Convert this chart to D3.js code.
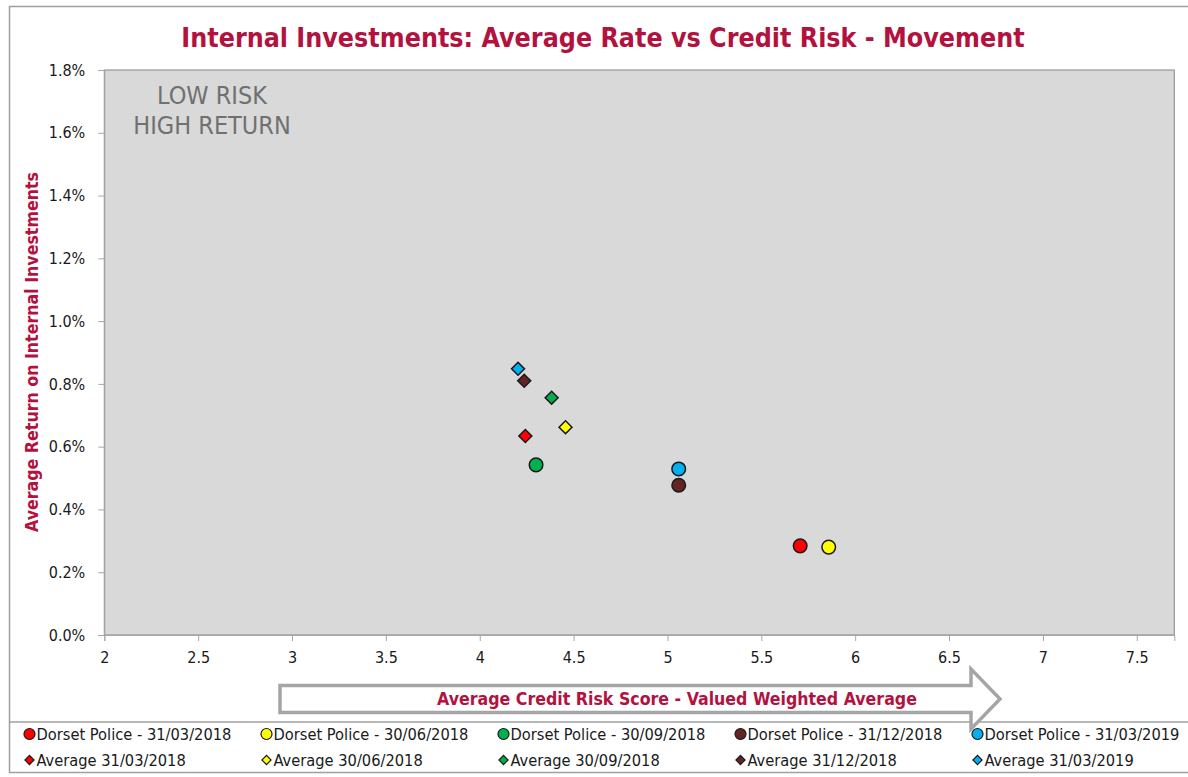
<!DOCTYPE html>
<html lang="en">
<head>
<meta charset="UTF-8">
<title>Internal Investments: Average Rate vs Credit Risk - Movement</title>
<script src="https://cdn.jsdelivr.net/npm/d3@7/dist/d3.min.js"></script>
<style>
  html, body { margin: 0; padding: 0; background: #fff; }
  svg { display: block; }
  text { font-family: "DejaVu Sans Condensed", "DejaVu Sans", sans-serif; }
</style>
</head>
<body>
<svg id="chart" width="1188" height="777"></svg>
<script>
// periods shown in the legend
var periods = ["31/03/2018", "30/06/2018", "30/09/2018", "31/12/2018", "31/03/2019"];
// Dorset Police (circles)
var policeScore = [5.707, 5.859, 4.300, 5.060, 5.060];
var policeRate = [0.00284, 0.00280, 0.00542, 0.00477, 0.00529];
// Average (diamonds)
var avgScore = [4.243, 4.457, 4.383, 4.237, 4.204];
var avgRate = [0.00634, 0.00662, 0.00756, 0.00810, 0.00848];
// axis ticks
var xTicks = [2, 2.5, 3, 3.5, 4, 4.5, 5, 5.5, 6, 6.5, 7, 7.5];
var yTicks = [0, 0.002, 0.004, 0.006, 0.008, 0.010, 0.012, 0.014, 0.016, 0.018];

var palette = ["#ff0000", "#ffff00", "#00b050", "#632523", "#00b0f0"];
var crimson = "#b3123f";

var svg = d3.select("#chart");
var plotL = 104.3, plotR = 1174.3, plotT = 70, plotB = 635;

var x = d3.scaleLinear().domain([2, 7.7]).range([plotL, plotR]);
var y = d3.scaleLinear().domain([0, 0.018]).range([plotB, plotT]);

// scale font size so a text fits the wanted width
function fit(sel, target) {
    var w = sel.node().getComputedTextLength();
    var fs = parseFloat(sel.style("font-size"));
    var nfs = fs * target / w;
    sel.style("font-size", nfs + "px");
    return nfs;
}

// outer frame + legend separator
svg.append("rect").attr("x", 9.5).attr("y", 6.5).attr("width", 1190).attr("height", 766)
    .attr("fill", "#fff").attr("stroke", "#a0a0a0").attr("stroke-width", 1.5);
svg.append("line").attr("x1", 9).attr("x2", 1188).attr("y1", 722).attr("y2", 722)
    .attr("stroke", "#a0a0a0").attr("stroke-width", 1.5);

// title
var title = svg.append("text")
    .attr("x", 603).attr("y", 47)
    .attr("text-anchor", "middle")
    .style("font-size", "26px").style("font-weight", "bold")
    .attr("fill", crimson)
    .text("Internal Investments: Average Rate vs Credit Risk - Movement");
fit(title, 844);

// plot area
svg.append("rect").attr("x", plotL).attr("y", plotT)
    .attr("width", plotR - plotL).attr("height", plotB - plotT)
    .attr("fill", "#d9d9d9").attr("stroke", "#868686").attr("stroke-width", 1);

// axes
var yAxis = svg.append("g").attr("transform", "translate(" + plotL + ",0)")
    .call(d3.axisLeft(y).tickValues(yTicks).tickFormat(d3.format(".1%")).tickSize(6).tickPadding(13));
var xAxis = svg.append("g").attr("transform", "translate(0," + plotB + ")")
    .call(d3.axisBottom(x).tickValues(xTicks).tickFormat(d3.format("")).tickSize(6).tickPadding(11));
[xAxis, yAxis].forEach(function (a) {
    a.attr("font-family", null).attr("font-size", null);
    a.select(".domain").attr("stroke", "#a6a6a6");
    a.selectAll(".tick line").attr("stroke", "#a6a6a6");
    a.selectAll(".tick text").attr("fill", "#1a1a1a").style("font-size", "16px");
});

// y axis title
var yTitle = svg.append("text")
    .attr("transform", "translate(38,352) rotate(-90)")
    .attr("text-anchor", "middle")
    .style("font-size", "16px").style("font-weight", "bold")
    .attr("fill", crimson)
    .text("Average Return on Internal Investments");
fit(yTitle, 360);

// corner note
var note = svg.append("g").attr("fill", "#707070");
var n1 = note.append("text").attr("x", 212).attr("y", 104).attr("text-anchor", "middle")
    .style("font-size", "22px").text("LOW RISK");
var noteSize = fit(n1, 110);
note.append("text").attr("x", 212).attr("y", 134).attr("text-anchor", "middle")
    .style("font-size", noteSize + "px").text("HIGH RETURN");

// x axis title as block arrow
var ap = d3.path();
ap.moveTo(280, 685.5);
ap.lineTo(971, 685.5);
ap.lineTo(971, 669);
ap.lineTo(1000, 699);
ap.lineTo(971, 729);
ap.lineTo(971, 712.5);
ap.lineTo(280, 712.5);
ap.closePath();
svg.append("path").attr("d", ap.toString())
    .attr("fill", "#fff").attr("stroke", "#a5a5a5").attr("stroke-width", 3.5)
    .attr("stroke-linejoin", "miter");
var xTitle = svg.append("text")
    .attr("x", 677).attr("y", 705)
    .attr("text-anchor", "middle")
    .style("font-size", "17px").style("font-weight", "bold")
    .attr("fill", crimson)
    .text("Average Credit Risk Score - Valued Weighted Average");
fit(xTitle, 480);

// marks
var diamond = d3.symbol().type(d3.symbolSquare).size(84);
var police = periods.map(function (p, i) {
    return {name: "Dorset Police - " + p, score: policeScore[i], rate: policeRate[i], color: palette[i]};
});
var avg = periods.map(function (p, i) {
    return {name: "Average " + p, score: avgScore[i], rate: avgRate[i], color: palette[i]};
});

svg.append("g").selectAll("circle")
    .data(police)
    .enter()
    .append("circle")
    .attr("cx", function (d) { return x(d.score); })
    .attr("cy", function (d) { return y(d.rate); })
    .attr("r", 6.8)
    .attr("fill", function (d) { return d.color; })
    .attr("stroke", "#1a1a1a").attr("stroke-width", 1.5);

svg.append("g").selectAll("path")
    .data(avg)
    .enter()
    .append("path")
    .attr("d", diamond)
    .attr("transform", function (d) {
        return "translate(" + x(d.score) + "," + y(d.rate) + ") rotate(45)";
    })
    .attr("fill", function (d) { return d.color; })
    .attr("stroke", "#1a1a1a").attr("stroke-width", 1.5);

// legend
var legend = svg.append("g");
var rows = [police, avg];
var legendSize = null;
rows.forEach(function (row, r) {
    var ly = r === 0 ? 734 : 760;
    row.forEach(function (d, i) {
        var lx = 29.5 + i * 237;
        if (r === 0) {
            legend.append("circle").attr("cx", lx).attr("cy", ly).attr("r", 5.5)
                .attr("fill", d.color).attr("stroke", "#1a1a1a").attr("stroke-width", 1.2);
        } else {
            legend.append("path").attr("d", d3.symbol().type(d3.symbolSquare).size(42))
                .attr("transform", "translate(" + lx + "," + ly + ") rotate(45)")
                .attr("fill", d.color).attr("stroke", "#1a1a1a").attr("stroke-width", 1.2);
        }
        var t = legend.append("text").attr("x", lx + 7).attr("y", ly + 5.5)
            .attr("fill", "#1a1a1a").style("font-size", "15px").text(d.name);
        if (legendSize === null) legendSize = fit(t, 195);
        t.style("font-size", legendSize + "px");
    });
});
</script>
</body>
</html>
